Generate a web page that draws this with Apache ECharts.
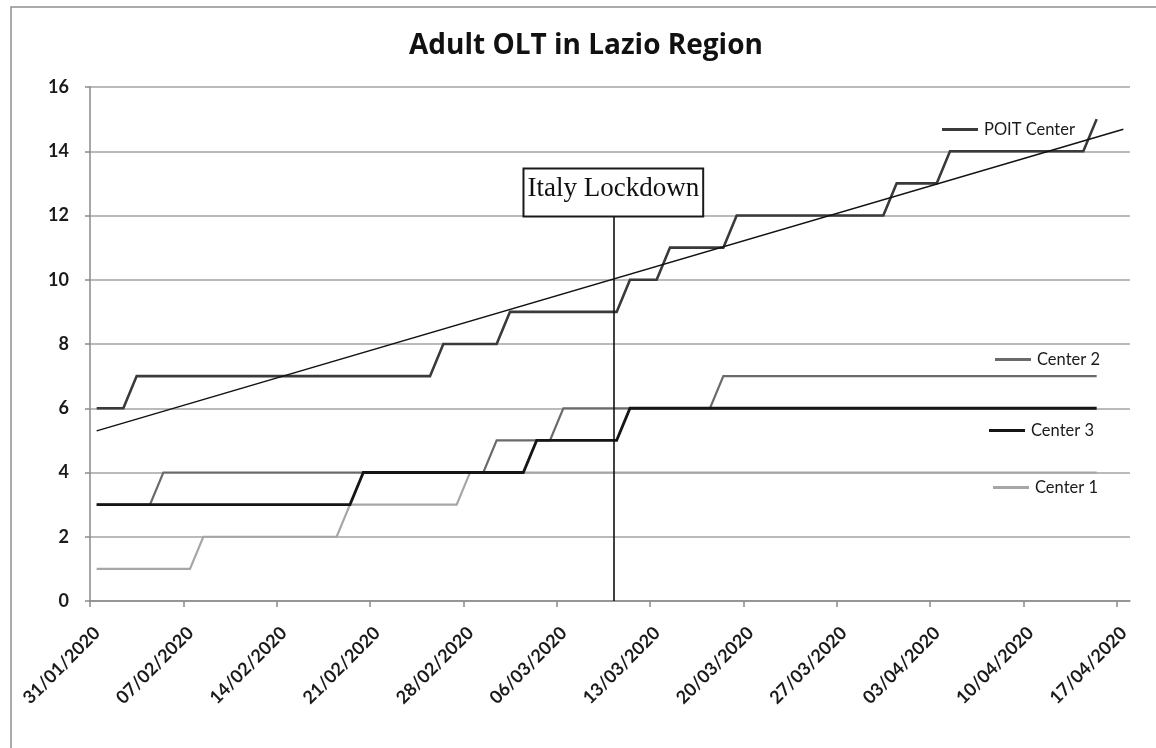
<!DOCTYPE html>
<html>
<head>
<meta charset="utf-8">
<script src="https://cdn.jsdelivr.net/npm/echarts@6/dist/echarts.min.js"></script>
<style>
html,body{margin:0;padding:0;background:#ffffff;}
#chart{width:1156px;height:748px;}
</style>
</head>
<body>
<div id="chart"></div>
<script>
// ---------------- data ----------------
const chartTitle = 'Adult OLT in Lazio Region';
const startDate = '31/01/2020';           // date of the first daily value
const tickLabels = ['31/01/2020','07/02/2020','14/02/2020','21/02/2020','28/02/2020','06/03/2020',
                    '13/03/2020','20/03/2020','27/03/2020','03/04/2020','10/04/2020','17/04/2020'];
const yTicks = [0, 2, 4, 6, 8, 10, 12, 14, 16];

// cumulative adult OLT, one value per day from 31/01/2020 to 15/04/2020 (rows = weeks)
const poitCenter = [
  6,6,6,7,7,7,7,
  7,7,7,7,7,7,7,
  7,7,7,7,7,7,7,
  7,7,7,7,7,8,8,
  8,8,8,9,9,9,9,
  9,9,9,9,9,10,10,
  10,11,11,11,11,11,12,
  12,12,12,12,12,12,12,
  12,12,12,12,13,13,13,
  13,14,14,14,14,14,14,
  14,14,14,14,14,15
];
const center2 = [
  3,3,3,3,3,4,4,
  4,4,4,4,4,4,4,
  4,4,4,4,4,4,4,
  4,4,4,4,4,4,4,
  4,4,5,5,5,5,5,
  6,6,6,6,6,6,6,
  6,6,6,6,6,7,7,
  7,7,7,7,7,7,7,
  7,7,7,7,7,7,7,
  7,7,7,7,7,7,7,
  7,7,7,7,7,7
];
const center3 = [
  3,3,3,3,3,3,3,
  3,3,3,3,3,3,3,
  3,3,3,3,3,3,4,
  4,4,4,4,4,4,4,
  4,4,4,4,4,5,5,
  5,5,5,5,5,6,6,
  6,6,6,6,6,6,6,
  6,6,6,6,6,6,6,
  6,6,6,6,6,6,6,
  6,6,6,6,6,6,6,
  6,6,6,6,6,6
];
const center1 = [
  1,1,1,1,1,1,1,
  1,2,2,2,2,2,2,
  2,2,2,2,2,3,3,
  3,3,3,3,3,3,3,
  4,4,4,4,4,4,4,
  4,4,4,4,4,4,4,
  4,4,4,4,4,4,4,
  4,4,4,4,4,4,4,
  4,4,4,4,4,4,4,
  4,4,4,4,4,4,4,
  4,4,4,4,4,4
];
const lockdownLabel = 'Italy Lockdown';
const lockdownDate = '10/03/2020';

// ---------------- helpers ----------------
function parseDate(s){ const p = s.split('/').map(Number); return Date.UTC(p[2], p[1]-1, p[0]); }
const DAY = 86400000;
function dayIndex(s){ return Math.round((parseDate(s) - parseDate(startDate)) / DAY); }

const tickDays = tickLabels.map(dayIndex);
const tickStep = tickDays[1] - tickDays[0];
const axisMax = tickDays[tickDays.length - 1] + 1;   // date axis covers whole last day
const HALF = 0.5;                                     // points sit in the middle of each day

function toPoints(arr){ return arr.map((v, i) => [i + HALF, v]); }

// linear trend line of the POIT series (least squares), as in the original chart
function linearFit(pts){
  const n = pts.length; let sx=0, sy=0, sxx=0, sxy=0;
  pts.forEach(p => { sx += p[0]; sy += p[1]; sxx += p[0]*p[0]; sxy += p[0]*p[1]; });
  const b = (n*sxy - sx*sy) / (n*sxx - sx*sx);
  const a = (sy - b*sx) / n;
  return {a, b};
}
const poitPts = toPoints(poitCenter);
const fit = linearFit(poitPts);
const trendX0 = HALF, trendX1 = tickDays[tickDays.length - 1] + HALF;
const trendPts = [[trendX0, fit.a + fit.b*trendX0], [trendX1, fit.a + fit.b*trendX1]];

const lockX = dayIndex(lockdownDate) + 0.25;
const lockTop = 12;

const sansFont = 'Lato, "Open Sans", sans-serif';

function lineSeries(name, data, color, width){
  return {
    name: name, type: 'line', data: toPoints(data),
    showSymbol: false, symbol: 'none', color: color,
    lineStyle: {color: color, width: width, cap: 'butt', join: 'miter'},
    emphasis: {disabled: true}, silent: true
  };
}

const legendCommon = {
  orient: 'horizontal', padding: 0, itemGap: 0, itemWidth: 36, itemHeight: 3,
  icon: 'rect', selectedMode: false,
  textStyle: {fontFamily: sansFont, fontSize: 16.5, color: '#1a1a1a', padding: [0,0,0,1]}
};

const option = {
  animation: false,
  backgroundColor: '#ffffff',
  title: {
    text: chartTitle, left: 409, top: 32, padding: 0,
    textStyle: {fontFamily: '"Open Sans", Lato, sans-serif', fontSize: 28, fontWeight: 'bold', color: '#111111'}
  },
  graphic: [{
    type: 'rect', z: -10, silent: true,
    shape: {x: 11, y: 7, width: 1300, height: 1000},
    style: {fill: 'none', stroke: '#8f8f8f', lineWidth: 1.5}
  }],
  legend: [
    Object.assign({}, legendCommon, {data: ['POIT Center'], left: 942, top: 121}),
    Object.assign({}, legendCommon, {data: ['Center 2'], left: 995, top: 351}),
    Object.assign({}, legendCommon, {data: ['Center 3'], left: 989, top: 422}),
    Object.assign({}, legendCommon, {data: ['Center 1'], left: 993, top: 479})
  ],
  grid: {left: 90, right: 26, top: 87, bottom: 147, containLabel: false, outerBoundsMode: 'none'},
  xAxis: {
    type: 'value', min: 0, max: axisMax, interval: tickStep,
    splitLine: {show: false},
    axisLine: {show: true, lineStyle: {color: '#8a8a8a', width: 1.5}},
    axisTick: {show: true, length: 6, customValues: tickDays, lineStyle: {color: '#8a8a8a', width: 1.5}},
    axisLabel: {
      customValues: tickDays, rotate: 45, margin: 22,
      verticalAlign: 'top', lineHeight: 20,
      fontFamily: sansFont, fontSize: 18, fontWeight: 'bold', color: '#1a1a1a',
      formatter: function(v){ const i = tickDays.indexOf(Math.round(v)); return i >= 0 ? tickLabels[i] : ''; }
    }
  },
  yAxis: {
    type: 'value', min: yTicks[0], max: yTicks[yTicks.length-1], interval: yTicks[1]-yTicks[0],
    axisLine: {show: true, lineStyle: {color: '#8a8a8a', width: 1.5}},
    axisTick: {show: true, length: 5, lineStyle: {color: '#8a8a8a', width: 1.5}},
    splitLine: {show: true, lineStyle: {color: '#a3a3a3', width: 1.6}},
    axisLabel: {margin: 21, fontFamily: sansFont, fontSize: 18, fontWeight: 'bold', color: '#1a1a1a'}
  },
  series: [
    lineSeries('Center 1', center1, '#a6a6a6', 2.2),
    lineSeries('Center 2', center2, '#6a6a6a', 2.2),
    lineSeries('Center 3', center3, '#151515', 2.8),
    lineSeries('POIT Center', poitCenter, '#3a3a3a', 2.6),
    {
      name: 'Linear (POIT Center)', type: 'line', data: trendPts,
      showSymbol: false, symbol: 'none', color: '#111111',
      lineStyle: {color: '#111111', width: 1.5}, silent: true, emphasis: {disabled: true}, z: 3
    },
    {
      name: 'Lockdown', type: 'line', data: [], silent: true,
      markLine: {
        silent: true, symbol: ['none', 'none'], animation: false,
        lineStyle: {color: '#111111', width: 1.6, type: 'solid'},
        emphasis: {disabled: true},
        label: {
          show: true, position: 'end', distance: 0, formatter: lockdownLabel,
          fontFamily: '"Liberation Serif", "Times New Roman", serif', fontSize: 27, color: '#111111',
          backgroundColor: '#ffffff', borderColor: '#1a1a1a', borderWidth: 2, padding: [6, 3, 13, 3]
        },
        data: [[{coord: [lockX, 0]}, {coord: [lockX, lockTop]}]]
      }
    }
  ]
};

const chart = echarts.init(document.getElementById('chart'), null, {renderer: 'canvas'});
chart.setOption(option);
</script>
</body>
</html>
